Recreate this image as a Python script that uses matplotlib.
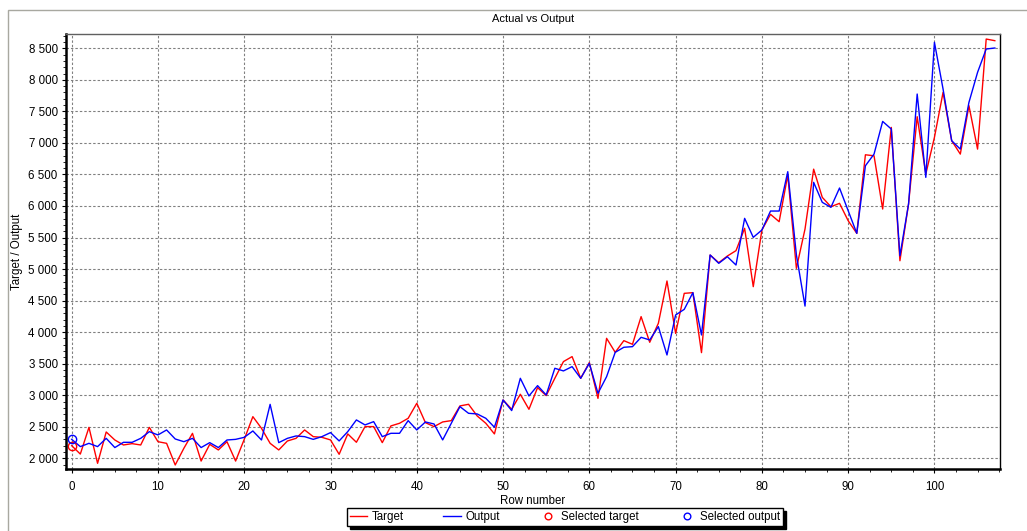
import numpy as np
import matplotlib
matplotlib.use("Agg")
import matplotlib.pyplot as plt
from matplotlib.ticker import MultipleLocator, FuncFormatter
from matplotlib.patches import Rectangle

# values
target = [2200, 2067, 2490, 1920, 2417, 2290, 2211, 2232, 2211, 2490,
          2263, 2237, 1894, 2158, 2395, 1956, 2221, 2132, 2263, 1956,
          2300, 2660, 2475, 2237, 2132, 2274, 2316, 2449, 2343, 2332,
          2291, 2063, 2386, 2254, 2502, 2502, 2248, 2513, 2555, 2634,
          2872, 2565, 2502, 2576, 2597, 2830, 2856, 2671, 2555, 2386,
          2925, 2777, 3015, 2777, 3120, 2994, 3268, 3533, 3612, 3268,
          3517, 2950, 3902, 3680, 3865, 3807, 4246, 3839, 4140, 4811,
          3980, 4615, 4626, 3675, 5223, 5101, 5207, 5292, 5646, 4721,
          5619, 5868, 5751, 6491, 5011, 5635, 6584, 6137, 5989, 6042,
          5767, 5566, 6812, 6796, 5952, 7246, 5132, 6031, 7416, 6507,
          7088, 7802, 7035, 6823, 7590, 6902, 8647, 8621]
output = [2300, 2185, 2237, 2185, 2316, 2170, 2253, 2253, 2316, 2422,
          2370, 2449, 2306, 2263, 2316, 2170, 2248, 2170, 2290, 2300,
          2332, 2433, 2290, 2855, 2248, 2316, 2354, 2343, 2300, 2343,
          2407, 2275, 2423, 2608, 2529, 2581, 2343, 2396, 2396, 2597,
          2449, 2576, 2544, 2291, 2555, 2819, 2713, 2703, 2634, 2492,
          2925, 2756, 3268, 2988, 3152, 3004, 3427, 3385, 3453, 3268,
          3506, 3030, 3294, 3680, 3760, 3770, 3918, 3876, 4087, 3638,
          4272, 4361, 4626, 3955, 5223, 5091, 5196, 5064, 5804, 5503,
          5619, 5920, 5920, 6544, 5223, 4413, 6375, 6058, 5979, 6285,
          5926, 5566, 6638, 6823, 7341, 7220, 5211, 6031, 7775, 6454,
          8595, 7855, 7035, 6902, 7643, 8119, 8489, 8505]
rows = np.arange(len(target))

selected_rows = [0]
selected_target = [2200]
selected_output = [2300]

plt.rcParams['font.family'] = ['Liberation Sans', 'DejaVu Sans']

fig = plt.figure(figsize=(10.27, 5.31), dpi=100)
ax = fig.add_axes([66/1027, 62/531, 934/1027, 435/531])

ax.plot(rows, target, color='#ff0000', lw=1.0, label='Target')
ax.plot(rows, output, color='#0000ff', lw=1.0, label='Output')
ax.plot(selected_rows, selected_target, 'o', mfc='none', mec='#ff0000',
        ms=6, mew=1.0, label='Selected target')
ax.plot(selected_rows, selected_output, 'o', mfc='none', mec='#0000ff',
        ms=6, mew=1.0, label='Selected output')

ax.set_xlim(-0.66, 107.6)
ax.set_ylim(1830, 8727)
ax.xaxis.set_major_locator(MultipleLocator(10))
ax.xaxis.set_minor_locator(MultipleLocator(2.5))
ax.yaxis.set_major_locator(MultipleLocator(500))
ax.yaxis.set_minor_locator(MultipleLocator(100))
ax.yaxis.set_major_formatter(FuncFormatter(lambda v, p: f"{int(v):,}".replace(',', ' ')))

ax.grid(True, which='major', color='#808080', ls=(0, (2.2, 1.8)), lw=0.8)
ax.set_axisbelow(True)
ax.tick_params(which='major', direction='out', length=3, width=0.8, labelsize=8.3)
ax.tick_params(which='minor', direction='out', length=2, width=0.6)
ax.tick_params(axis='x', pad=6)
ax.tick_params(axis='y', pad=3)

for s in ['left', 'bottom']:
    ax.spines[s].set_linewidth(1.8)
    ax.spines[s].set_color('black')
ax.spines['top'].set_color('#606060')
ax.spines['top'].set_linewidth(1.0)
ax.spines['right'].set_color('black')
ax.spines['right'].set_linewidth(1.0)

ax.set_title('Actual vs Output', fontsize=8, pad=9)
ax.set_xlabel('Row number', fontsize=8.3, labelpad=1)
ax.set_ylabel('Target / Output', fontsize=8.3, labelpad=4)

leg = fig.legend(loc='lower left', bbox_to_anchor=(347/1027, 5/531, 436/1027, 17/531),
                 ncol=4, mode='expand', fontsize=8.3, frameon=True, fancybox=False,
                 shadow={'color': 'black', 'alpha': 1}, edgecolor='black',
                 handlelength=1.5, handletextpad=0.4, borderpad=0.25,
                 borderaxespad=0, markerscale=0.8)
leg.get_frame().set_linewidth(1.0)

# panel border
fig.add_artist(Rectangle((8/1027, -0.1), 1.2, (531-10)/531 + 0.1,
                         transform=fig.transFigure, fill=False,
                         edgecolor='#a8a8a0', lw=1.0))

fig.savefig('out.png', dpi=100)
